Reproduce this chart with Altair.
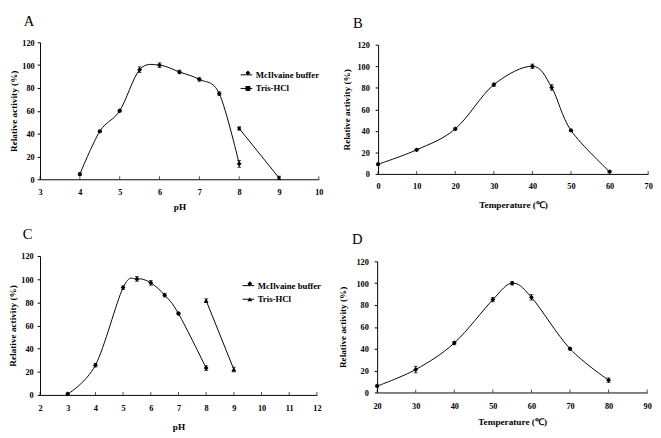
import altair as alt
import pandas as pd

FONT = "Liberation Serif"
SERIES = ["McIlvaine buffer", "Tris-HCl"]

# ---- Panel A (pH, McIlvaine + Tris-HCl)
a_m_x = [4, 4.5, 5, 5.5, 6, 6.5, 7, 7.5, 8]
a_m_y = [4.5, 42, 60, 96, 100, 94, 87.5, 75, 13.5]
a_m_e = [1.2, 1, 1, 2.5, 2, 1.5, 1.5, 1.5, 3]
a_t_x = [8, 9]
a_t_y = [44.5, 1.2]
a_t_e = [1.5, 1.5]

# ---- Panel B (temperature)
b_x = [0, 10, 20, 30, 40, 45, 50, 60]
b_y = [9, 22.4, 41.8, 82.9, 100, 80.3, 40.4, 2.1]
b_e = [1, 1, 1, 1.5, 2, 2.5, 1, 1]

# ---- Panel C (pH, McIlvaine + Tris-HCl)
c_m_x = [3, 4, 5, 5.5, 6, 6.5, 7, 8]
c_m_y = [0.8, 25.7, 92.7, 100.2, 96.8, 86.2, 70.3, 23.2]
c_m_e = [1, 1.5, 1.5, 2, 2, 1.5, 1, 2]
c_t_x = [8, 9]
c_t_y = [81.5, 22]
c_t_e = [1.5, 2]

# ---- Panel D (temperature)
d_x = [20, 30, 40, 50, 55, 60, 70, 80]
d_y = [5.9, 21, 45.3, 85, 100, 87.1, 40, 11.3]
d_e = [1, 3, 1.5, 2, 1.5, 2.5, 1, 2]

Y_TICKS = [0, 20, 40, 60, 80, 100, 120]


def frame(xs, ys, es, series):
    return pd.DataFrame({
        "x": xs, "y": ys,
        "lo": [v - e for v, e in zip(ys, es)],
        "hi": [v + e for v, e in zip(ys, es)],
        "series": [series] * len(xs),
        "series_s": [series] * len(xs),
        "series_z": [series] * len(xs),
    })


def panel(df, letter, xdom, xstep, xtitle, width, height,
          ylab_pad, ytitle_pad, xlab_pad, xtitle_pad, title_dx, title_offset,
          shapes=None, sizes=None, legend_xy=None):
    xticks = list(range(xdom[0], xdom[1] + 1, xstep))
    xs = alt.Scale(domain=xdom, nice=False, zero=False)
    ys = alt.Scale(domain=[0, 120], nice=False)
    xaxis = alt.Axis(values=xticks, title=xtitle, ticks=False, labelFlush=False,
                     labelPadding=xlab_pad, titlePadding=xtitle_pad, grid=False,
                     format="d")
    yaxis = alt.Axis(values=Y_TICKS, title="Relative activity (%)", tickSize=3,
                     labelPadding=ylab_pad, titlePadding=ytitle_pad, grid=False)
    X = alt.X("x:Q", scale=xs, axis=xaxis)
    base = alt.Chart(df)

    if legend_xy is not None:
        lx, ly = legend_xy
        color = alt.Color("series:N",
                          scale=alt.Scale(range=["black", "black"]),
                          legend=alt.Legend(orient="none", legendX=lx, legendY=ly,
                                            title=None, symbolType="stroke",
                                            symbolSize=144, symbolStrokeWidth=1,
                                            labelFont=FONT, labelFontSize=9,
                                            labelFontWeight="bold", labelColor="black",
                                            labelOffset=3, rowPadding=2, padding=0))
        line = base.mark_line(interpolate="cardinal", tension=0, strokeWidth=1).encode(
            x=X, y=alt.Y("y:Q", scale=ys, axis=yaxis), color=color)
        shape = alt.Shape("series_s:N", scale=alt.Scale(range=shapes),
                          legend=alt.Legend(orient="none", legendX=lx + 3.5, legendY=ly,
                                            title=None, symbolSize=25,
                                            symbolFillColor="black", symbolStrokeColor="black",
                                            labelFont=FONT, labelFontSize=9,
                                            labelExpr="''", labelOffset=0,
                                            rowPadding=5, padding=0))
        size = alt.Size("series_z:N", scale=alt.Scale(range=sizes), legend=None)
        pts = base.mark_point(filled=True, color="black", opacity=1).encode(
            x=X, y=alt.Y("y:Q", scale=ys, axis=yaxis), shape=shape, size=size)
    else:
        line = base.mark_line(interpolate="cardinal", tension=0, strokeWidth=1,
                              color="black").encode(
            x=X, y=alt.Y("y:Q", scale=ys, axis=yaxis))
        pts = base.mark_point(filled=True, color="black", opacity=1, shape="diamond",
                              size=25).encode(
            x=X, y=alt.Y("y:Q", scale=ys, axis=yaxis))

    rule = base.mark_rule(color="black", strokeWidth=1).encode(
        x=X, y=alt.Y("lo:Q", scale=ys, axis=yaxis), y2="hi:Q")
    cap_lo = base.mark_tick(orient="horizontal", size=4, thickness=1, color="black").encode(
        x=X, y=alt.Y("lo:Q", scale=ys, axis=yaxis))
    cap_hi = base.mark_tick(orient="horizontal", size=4, thickness=1, color="black").encode(
        x=X, y=alt.Y("hi:Q", scale=ys, axis=yaxis))

    tick_df = pd.DataFrame({"x": xticks, "y": [0] * len(xticks)})
    xtick = alt.Chart(tick_df).mark_tick(orient="vertical", size=3, thickness=1,
                                         color="black", yOffset=-1.5).encode(
        x=X, y=alt.Y("y:Q", scale=ys, axis=yaxis))

    return alt.layer(rule, cap_lo, cap_hi, line, pts, xtick).properties(
        width=width, height=height,
        title=alt.TitleParams(text=letter, anchor="start", font=FONT, fontSize=15,
                              fontWeight="normal", color="black", dx=title_dx,
                              offset=title_offset),
    )


df_a = pd.concat([frame(a_m_x, a_m_y, a_m_e, SERIES[0]),
                  frame(a_t_x, a_t_y, a_t_e, SERIES[1])], ignore_index=True)
df_b = frame(b_x, b_y, b_e, SERIES[0])
df_c = pd.concat([frame(c_m_x, c_m_y, c_m_e, SERIES[0]),
                  frame(c_t_x, c_t_y, c_t_e, SERIES[1])], ignore_index=True)
df_d = frame(d_x, d_y, d_e, SERIES[0])

pa = panel(df_a, "A", [3, 10], 1, "pH", 287, 141,
           ylab_pad=3, ytitle_pad=3, xlab_pad=9, xtitle_pad=6, title_dx=15, title_offset=10,
           shapes=["diamond", "square"], sizes=[25, 10], legend_xy=[206, 27])
pb = panel(df_b, "B", [0, 70], 10, "Temperature (℃)", 278, 133,
           ylab_pad=6, ytitle_pad=6, xlab_pad=8, xtitle_pad=10, title_dx=12, title_offset=10)
pc = panel(df_c, "C", [2, 12], 1, "pH", 285, 143,
           ylab_pad=4, ytitle_pad=3, xlab_pad=9, xtitle_pad=10, title_dx=15, title_offset=11,
           shapes=["diamond", "triangle-up"], sizes=[25, 25], legend_xy=[208, 24])
pd_ = panel(df_d, "D", [20, 90], 10, "Temperature (℃)", 278, 135,
            ylab_pad=6, ytitle_pad=9, xlab_pad=9, xtitle_pad=7, title_dx=15, title_offset=11)

IND = dict(color="independent", shape="independent", size="independent")

row1 = alt.hconcat(pa, pb, spacing=18, center=True).resolve_scale(**IND).resolve_legend(**IND)
row2 = alt.hconcat(pc, pd_, spacing=16, center=True).resolve_scale(**IND).resolve_legend(**IND)

chart = alt.vconcat(row1, row2, spacing=16).resolve_scale(**IND).resolve_legend(**IND).properties(
    padding=0, background="white"
).configure_view(stroke=None).configure_axis(
    domainColor="black", domainWidth=1, tickColor="black", tickWidth=1,
    labelColor="black", titleColor="black", labelFont=FONT, titleFont=FONT,
    labelFontWeight="bold", titleFontWeight="bold", labelFontSize=8.5, titleFontSize=9.5,
)

chart.save("out.html", embed_options={"renderer": "svg", "actions": False})
